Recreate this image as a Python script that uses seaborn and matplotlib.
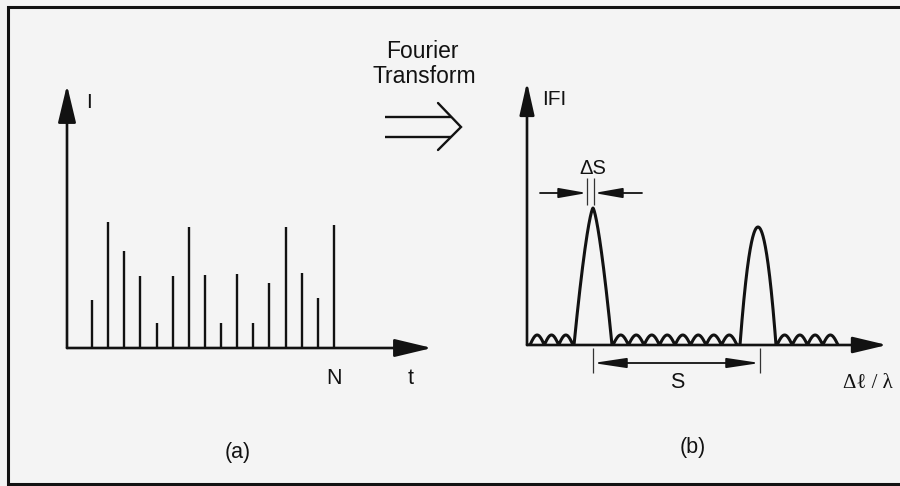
import numpy as np
import pandas as pd
import matplotlib
matplotlib.use("Agg")
import matplotlib.pyplot as plt
import seaborn as sns

# ---------------- data ----------------
# (a) sampled signal: stem positions (sample index) and intensities
stem_t = list(range(1, 17))
stem_I = [48, 126, 97, 72, 25, 72, 121, 73, 25, 74, 25, 65, 121, 75, 50, 123]

# (b) |F| spectrum: two main peaks and the side-lobe ripples
peak_center = [66, 231]
peak_height = [137, 118]
peak_halfwidth = [19, 18]
peak_sharpness = [1.4, 2.0]

ripple_start = [3, 86, 250]
ripple_end = [46, 210, 311]
ripple_count = [3, 8, 4]
ripple_amp = [10, 10, 10]

# annotation marks in (b)
ds_edges = [60, 67]      # Delta S
s_edges = [66, 233]      # S

# ---------------- style ----------------
W, H = 900, 486
sns.set_theme(style="white")
plt.rcParams["font.family"] = ["Liberation Sans", "DejaVu Sans"]
BG = "#f4f4f4"
INK = "#121212"

fig = plt.figure(figsize=(9, 4.86), dpi=100, facecolor=BG)


def px_axes(x0, y0, x1, y1):
    ax = fig.add_axes([x0 / W, 1 - y1 / H, (x1 - x0) / W, (y1 - y0) / H])
    ax.set_axis_off()
    return ax


def axis_arrow(ax, start, end, lw=1.9, hl=2.3, hw=0.55):
    ax.annotate("", xy=end, xytext=start,
                arrowprops=dict(arrowstyle=f"-|>,head_length={hl},head_width={hw}",
                                lw=lw, color=INK, shrinkA=0, shrinkB=0,
                                mutation_scale=10),
                annotation_clip=False)


# background / frame / free text in pixel coordinates
bg = px_axes(0, 0, W, H)
bg.set_xlim(0, W)
bg.set_ylim(H, 0)
bg.plot([W, 8, 8, W], [7, 7, 484, 484], lw=2.2, color=INK,
        solid_joinstyle="miter", solid_capstyle="butt")

# "Fourier Transform" with hollow double arrow
bg.text(422, 58, "Fourier", fontsize=16.5, ha="center", va="baseline", color=INK)
bg.text(424, 83, "Transform", fontsize=16.5, ha="center", va="baseline", color=INK)
bg.plot([385, 451], [117, 117], lw=1.7, color=INK, solid_capstyle="butt")
bg.plot([385, 451], [137, 137], lw=1.7, color=INK, solid_capstyle="butt")
bg.plot([438, 461, 438], [103, 127, 150], lw=1.7, color=INK, solid_joinstyle="miter")

# labels
bg.text(89, 108, "I", fontsize=15, ha="center", va="baseline", color=INK)
bg.text(334.5, 384, "N", fontsize=15.5, ha="center", va="baseline", color=INK)
bg.text(411, 384, "t", fontsize=15.5, ha="center", va="baseline", color=INK)
bg.text(238, 458, "(a)", fontsize=15.5, ha="center", va="baseline", color=INK)
bg.text(554, 105, "IFI", fontsize=15, ha="center", va="baseline", color=INK)
bg.text(593, 174, "ΔS", fontsize=14.5, ha="center", va="baseline", color=INK)
bg.text(677, 388, "S", fontsize=15.5, ha="center", va="baseline", color=INK)
bg.text(693, 453, "(b)", fontsize=15.5, ha="center", va="baseline", color=INK)
bg.text(868, 388, "Δℓ / λ", fontsize=15, ha="center", va="baseline", color=INK,
        family=["Liberation Serif", "DejaVu Serif"])

# ---------------- panel (a): stems ----------------
ax_a = px_axes(67, 85, 432, 348)
step = (334 - 92) / 15.0
xl = 1 - (92 - 67) / step
xr = 16 + (432 - 334) / step
ax_a.set_xlim(xl, xr)
ax_a.set_ylim(0, 263)
ax_a.vlines(stem_t, 0, stem_I, lw=1.7, color=INK)
axis_arrow(ax_a, (xl, 0), (xr, 0))
axis_arrow(ax_a, (xl, 0), (xl, 263))

# ---------------- panel (b): spectrum ----------------
ax_b = px_axes(527, 82, 887, 345)
ax_b.set_xlim(0, 360)
ax_b.set_ylim(0, 263)

xs, ys = [np.array([0.0])], [np.array([0.0])]
for i in range(3):
    a, b, n = ripple_start[i], ripple_end[i], ripple_count[i]
    xr_ = np.linspace(a, b, 40 * n)
    xs.append(xr_)
    ys.append(ripple_amp[i] * np.abs(np.sin(np.pi * n * (xr_ - a) / (b - a))))
    if i < 2:
        c, h, w, p = peak_center[i], peak_height[i], peak_halfwidth[i], peak_sharpness[i]
        xp = np.linspace(c - w, c + w, 160)
        xs.append(xp)
        ys.append(h * (1 - np.abs((xp - c) / w) ** p))
curve = pd.DataFrame({"x": np.concatenate(xs), "F": np.concatenate(ys)})
sns.lineplot(data=curve, x="x", y="F", ax=ax_b, color=INK, lw=2.2,
             sort=False, estimator=None)
ax_b.set_axis_off()

axis_arrow(ax_b, (0, 0), (360, 0), hl=2.1, hw=0.5)
axis_arrow(ax_b, (0, 0), (0, 263), hl=2.0, hw=0.45)

# Delta S marker
ax_b.vlines(ds_edges, 140, 167, lw=0.9, color="#333333")
small = dict(arrowstyle="-|>,head_length=1.7,head_width=0.3", lw=1.3, color=INK,
             shrinkA=0, shrinkB=0, mutation_scale=10)
ax_b.annotate("", xy=(ds_edges[0], 152), xytext=(13, 152), arrowprops=small)
ax_b.annotate("", xy=(ds_edges[1], 152), xytext=(115, 152), arrowprops=small)

# S marker (below the axis)
ax_b.vlines(s_edges, -28, -3, lw=0.9, color="#333333", clip_on=False)
ax_b.annotate("", xy=(s_edges[1], -18), xytext=(s_edges[0], -18),
              arrowprops=dict(arrowstyle="<|-|>,head_length=2.0,head_width=0.3",
                              lw=1.3, color=INK, shrinkA=0, shrinkB=0,
                              mutation_scale=10),
              annotation_clip=False)

fig.savefig("out.png", dpi=100, facecolor=BG)
